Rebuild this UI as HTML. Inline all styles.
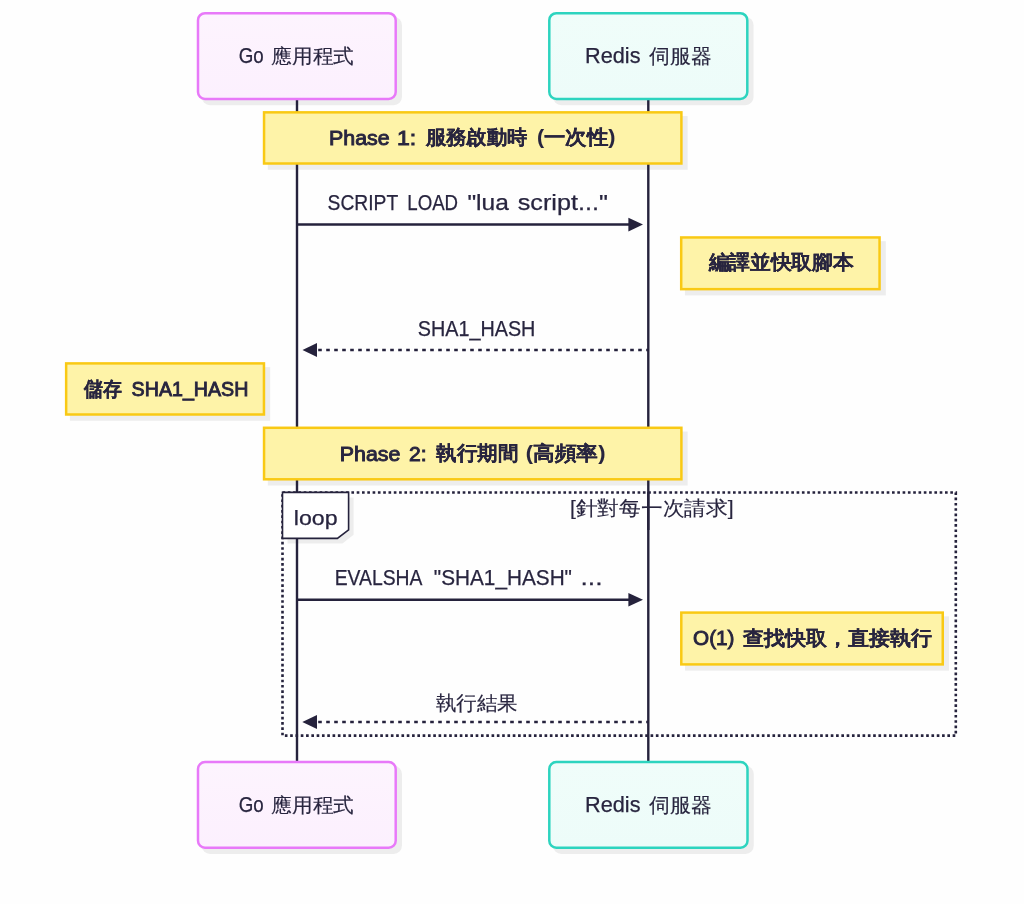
<!DOCTYPE html>
<html lang="zh-Hant">
<head>
<meta charset="utf-8">
<style>
html,body{margin:0;padding:0;background:#ffffff;}
body{width:1024px;height:904px;overflow:hidden;}
svg{display:block;will-change:transform;}
text{font-family:"Liberation Sans",sans-serif;fill:#28253f;}
</style>
</head>
<body>
<svg width="1024" height="904" viewBox="0 0 1024 904">

<defs>
<linearGradient id="gp" x1="0" y1="0" x2="0" y2="1"><stop offset="0" stop-color="#fdf4fe"/><stop offset="1" stop-color="#fcf0fe"/></linearGradient>
<linearGradient id="gt" x1="0" y1="0" x2="0" y2="1"><stop offset="0" stop-color="#f0fdfa"/><stop offset="1" stop-color="#edfcf9"/></linearGradient>
</defs>
<rect width="1024" height="904" fill="#fefefe"/>
<rect x="201.75" y="16.95" width="200.20" height="88.25" rx="8.25" fill="#ededed"/><rect x="553.05" y="16.95" width="200.50" height="88.25" rx="8.25" fill="#ededed"/><rect x="201.75" y="765.85" width="200.20" height="88.05" rx="8.25" fill="#ededed"/><rect x="553.05" y="765.85" width="200.70" height="88.05" rx="8.25" fill="#ededed"/><rect x="267.80" y="116.10" width="419.85" height="53.65" fill="#ededed"/><rect x="684.95" y="241.20" width="200.85" height="54.20" fill="#ededed"/><rect x="69.90" y="367.15" width="200.30" height="53.60" fill="#ededed"/><rect x="267.80" y="431.55" width="419.85" height="54.00" fill="#ededed"/><rect x="685.05" y="616.35" width="263.95" height="54.30" fill="#ededed"/><path d="M287.5 497.4 H353.6 V534.8 L342.4 543.4 H287.5 Z" fill="#ededed"/>
<line x1="297.0" y1="99" x2="297.0" y2="762" stroke="#25223c" stroke-width="2.4"/>
<line x1="648.3" y1="99" x2="648.3" y2="762" stroke="#25223c" stroke-width="2.4"/>
<rect x="198.00" y="13.20" width="197.70" height="85.75" rx="7" fill="url(#gp)" stroke="#e879f9" stroke-width="2.5"/><rect x="549.30" y="13.20" width="198.00" height="85.75" rx="7" fill="url(#gt)" stroke="#2dd4bf" stroke-width="2.5"/><rect x="198.00" y="762.10" width="197.70" height="85.55" rx="7" fill="url(#gp)" stroke="#e879f9" stroke-width="2.5"/><rect x="549.30" y="762.10" width="198.20" height="85.55" rx="7" fill="url(#gt)" stroke="#2dd4bf" stroke-width="2.5"/><rect x="264.05" y="112.35" width="417.35" height="51.15" fill="#fef3a8" stroke="#f9c914" stroke-width="2.5"/><rect x="681.20" y="237.45" width="198.35" height="51.70" fill="#fef3a8" stroke="#f9c914" stroke-width="2.5"/><rect x="66.15" y="363.40" width="197.80" height="51.10" fill="#fef3a8" stroke="#f9c914" stroke-width="2.5"/><rect x="264.05" y="427.80" width="417.35" height="51.50" fill="#fef3a8" stroke="#f9c914" stroke-width="2.5"/><rect x="681.30" y="612.60" width="261.45" height="51.80" fill="#fef3a8" stroke="#f9c914" stroke-width="2.5"/>
<line x1="297.0" y1="224.6" x2="632" y2="224.6" stroke="#25223c" stroke-width="2.5"/>
<path d="M628.4 217.8 L643 224.6 L628.4 231.4 Z" fill="#25223c"/>
<line x1="318.2" y1="350.1" x2="648" y2="350.1" stroke="#25223c" stroke-width="2.5" stroke-dasharray="3.6,4.4"/>
<path d="M317 343 L302.5 350.1 L317 357.1 Z" fill="#25223c"/>
<line x1="297.0" y1="599.8" x2="632" y2="599.8" stroke="#25223c" stroke-width="2.5"/>
<path d="M628.4 593 L643 599.8 L628.4 606.6 Z" fill="#25223c"/>
<line x1="318.2" y1="722.1" x2="648" y2="722.1" stroke="#25223c" stroke-width="2.5" stroke-dasharray="3.6,4.4"/>
<path d="M317 715.1 L302.3 722.1 L317 729 Z" fill="#25223c"/>
<rect x="282.5" y="492.5" width="673.3" height="243.1" fill="none" stroke="#25223c" stroke-width="2.6" stroke-dasharray="2.65,2.65"/>
<path d="M282.5 492.4 H348.6 V529.8 L337.4 538.4 H282.5 Z" fill="#ffffff" stroke="#25223c" stroke-width="1.6"/>

<text x="238.75" y="63.30" font-size="21.5" font-weight="normal" stroke="#28253f" stroke-width="0.25" textLength="25.00" lengthAdjust="spacingAndGlyphs">Go</text>
<text x="271.25" y="63.30" font-size="19.5" font-weight="normal" stroke="#28253f" stroke-width="0.15" textLength="82.60" lengthAdjust="spacingAndGlyphs">應用程式</text>
<text x="585.10" y="63.30" font-size="21.5" font-weight="normal" stroke="#28253f" stroke-width="0.25" textLength="55.40" lengthAdjust="spacingAndGlyphs">Redis</text>
<text x="649.40" y="63.30" font-size="19.5" font-weight="normal" stroke="#28253f" stroke-width="0.15" textLength="62.60" lengthAdjust="spacingAndGlyphs">伺服器</text>
<text x="329.00" y="145.30" font-size="20" font-weight="normal" stroke="#28253f" stroke-width="0.9" textLength="60.60" lengthAdjust="spacingAndGlyphs">Phase</text>
<text x="397.00" y="145.30" font-size="20" font-weight="normal" stroke="#28253f" stroke-width="0.9" textLength="19.20" lengthAdjust="spacingAndGlyphs">1:</text>
<text x="425.70" y="143.80" font-size="20" font-weight="bold" stroke="#28253f" stroke-width="0.08" textLength="101.60" lengthAdjust="spacingAndGlyphs">服務啟動時</text>
<text x="536.90" y="143.80" font-size="20" font-weight="bold" stroke="#28253f" stroke-width="0.08" textLength="78.60" lengthAdjust="spacingAndGlyphs">(一次性)</text>
<text x="327.60" y="209.90" font-size="21.5" font-weight="normal" stroke="#28253f" stroke-width="0.25" textLength="70.60" lengthAdjust="spacingAndGlyphs">SCRIPT</text>
<text x="407.30" y="209.90" font-size="21.5" font-weight="normal" stroke="#28253f" stroke-width="0.25" textLength="50.80" lengthAdjust="spacingAndGlyphs">LOAD</text>
<text x="467.40" y="209.90" font-size="21.5" font-weight="normal" stroke="#28253f" stroke-width="0.25" textLength="41.40" lengthAdjust="spacingAndGlyphs">&quot;lua</text>
<text x="517.70" y="209.90" font-size="21.5" font-weight="normal" stroke="#28253f" stroke-width="0.25" textLength="90.20" lengthAdjust="spacingAndGlyphs">script...&quot;</text>
<text x="708.60" y="269.20" font-size="20" font-weight="bold" stroke="#28253f" stroke-width="0.08" textLength="145.00" lengthAdjust="spacingAndGlyphs">編譯並快取腳本</text>
<text x="417.75" y="335.75" font-size="21.5" font-weight="normal" stroke="#28253f" stroke-width="0.25" textLength="117.60" lengthAdjust="spacingAndGlyphs">SHA1_HASH</text>
<text x="84.25" y="396.40" font-size="20" font-weight="bold" stroke="#28253f" stroke-width="0.08" textLength="38.00" lengthAdjust="spacingAndGlyphs">儲存</text>
<text x="131.60" y="396.40" font-size="20" font-weight="normal" stroke="#28253f" stroke-width="0.9" textLength="116.80" lengthAdjust="spacingAndGlyphs">SHA1_HASH</text>
<text x="339.75" y="460.60" font-size="20" font-weight="normal" stroke="#28253f" stroke-width="0.9" textLength="60.60" lengthAdjust="spacingAndGlyphs">Phase</text>
<text x="409.10" y="460.60" font-size="20" font-weight="normal" stroke="#28253f" stroke-width="0.9" textLength="17.60" lengthAdjust="spacingAndGlyphs">2:</text>
<text x="436.20" y="459.70" font-size="20" font-weight="bold" stroke="#28253f" stroke-width="0.08" textLength="82.20" lengthAdjust="spacingAndGlyphs">執行期間</text>
<text x="525.80" y="459.70" font-size="20" font-weight="bold" stroke="#28253f" stroke-width="0.08" textLength="79.60" lengthAdjust="spacingAndGlyphs">(高頻率)</text>
<text x="293.80" y="524.60" font-size="19.5" font-weight="normal" stroke="#28253f" stroke-width="0.25" textLength="43.80" lengthAdjust="spacingAndGlyphs">loop</text>
<text x="569.90" y="515.00" font-size="19.5" font-weight="normal" stroke="#28253f" stroke-width="0.15" textLength="163.80" lengthAdjust="spacingAndGlyphs">[針對每一次請求]</text>
<text x="334.70" y="585.10" font-size="21.5" font-weight="normal" stroke="#28253f" stroke-width="0.25" textLength="87.80" lengthAdjust="spacingAndGlyphs">EVALSHA</text>
<text x="433.80" y="585.10" font-size="21.5" font-weight="normal" stroke="#28253f" stroke-width="0.25" textLength="138.20" lengthAdjust="spacingAndGlyphs">&quot;SHA1_HASH&quot;</text>
<text x="580.50" y="585.10" font-size="21.5" font-weight="normal" stroke="#28253f" stroke-width="0.25" textLength="22.00" lengthAdjust="spacingAndGlyphs">...</text>
<text x="693.10" y="644.50" font-size="20" font-weight="normal" stroke="#28253f" stroke-width="0.9" textLength="41.40" lengthAdjust="spacingAndGlyphs">O(1)</text>
<text x="743.10" y="644.50" font-size="20" font-weight="bold" stroke="#28253f" stroke-width="0.08" textLength="188.80" lengthAdjust="spacingAndGlyphs">查找快取，直接執行</text>
<text x="435.80" y="709.80" font-size="19.5" font-weight="normal" stroke="#28253f" stroke-width="0.15" textLength="82.00" lengthAdjust="spacingAndGlyphs">執行結果</text>
<text x="238.75" y="811.90" font-size="21.5" font-weight="normal" stroke="#28253f" stroke-width="0.25" textLength="25.00" lengthAdjust="spacingAndGlyphs">Go</text>
<text x="271.25" y="811.90" font-size="19.5" font-weight="normal" stroke="#28253f" stroke-width="0.15" textLength="82.60" lengthAdjust="spacingAndGlyphs">應用程式</text>
<text x="585.10" y="811.90" font-size="21.5" font-weight="normal" stroke="#28253f" stroke-width="0.25" textLength="55.40" lengthAdjust="spacingAndGlyphs">Redis</text>
<text x="649.40" y="811.90" font-size="19.5" font-weight="normal" stroke="#28253f" stroke-width="0.15" textLength="62.60" lengthAdjust="spacingAndGlyphs">伺服器</text>
<line x1="648.3" y1="492" x2="648.3" y2="530" stroke="#25223c" stroke-width="2.4"/>
</svg>
</body>
</html>
